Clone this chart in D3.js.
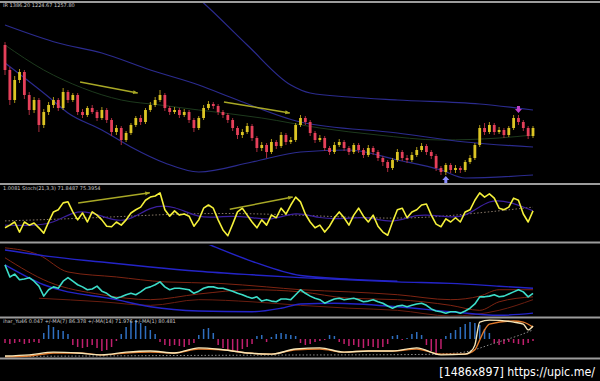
<!DOCTYPE html>
<html>
<head>
<meta charset="utf-8">
<script src="https://cdn.jsdelivr.net/npm/d3@7"></script>
<style>
  html, body { margin: 0; padding: 0; background: #000; }
  svg { display: block; }
</style>
</head>
<body>
<div id="chart"></div>
<script>
"use strict";

// ---- price bars (open of a bar = previous close) ----
var firstOpen = 1338;
var closes = [1313,1283,1303,1311,1288,1273,1283,1258,1271,1278,
  1283,1275,1291,1283,1288,1271,1268,1275,1271,1265,
  1273,1263,1251,1255,1243,1250,1258,1265,1261,1273,
  1278,1283,1288,1275,1271,1273,1268,1271,1263,1255,
  1265,1275,1279,1277,1271,1268,1263,1255,1248,1251,
  1257,1245,1235,1238,1231,1241,1237,1248,1241,1243,
  1258,1265,1261,1250,1243,1245,1235,1231,1238,1241,
  1235,1231,1238,1233,1228,1235,1231,1225,1221,1215,
  1223,1231,1225,1223,1228,1233,1237,1231,1227,1215,
  1211,1218,1213,1215,1213,1221,1225,1238,1255,1251,
  1258,1251,1253,1248,1255,1265,1261,1255,1247,1255];
var highs = [1341,1316,1307,1314,1313,1291,1286,1285,1274,1281,
  1286,1285,1295,1293,1290,1290,1274,1277,1278,1273,
  1276,1275,1265,1258,1257,1252,1260,1267,1268,1275,
  1281,1286,1293,1290,1277,1276,1275,1274,1273,1265,
  1267,1278,1282,1281,1279,1273,1270,1265,1257,1254,
  1260,1259,1247,1241,1240,1244,1243,1251,1250,1246,
  1260,1268,1267,1263,1252,1248,1247,1237,1241,1244,
  1243,1237,1240,1240,1235,1238,1237,1233,1227,1223,
  1225,1234,1233,1228,1231,1236,1240,1239,1233,1229,
  1217,1220,1220,1218,1217,1223,1228,1240,1258,1260,
  1261,1260,1256,1255,1257,1268,1268,1263,1257,1257];
var lows = [1308,1278,1280,1300,1284,1268,1270,1251,1255,1268,
  1275,1272,1273,1280,1281,1268,1265,1266,1269,1262,
  1263,1260,1247,1248,1238,1241,1248,1256,1258,1259,
  1271,1276,1281,1272,1268,1269,1265,1266,1260,1251,
  1253,1263,1273,1274,1268,1265,1260,1252,1244,1245,
  1249,1242,1231,1232,1225,1229,1234,1235,1238,1239,
  1241,1256,1258,1247,1240,1241,1232,1228,1229,1236,
  1232,1228,1229,1230,1225,1226,1228,1222,1217,1211,
  1213,1221,1222,1220,1221,1226,1231,1228,1224,1212,
  1208,1208,1210,1210,1210,1211,1219,1223,1236,1248,
  1249,1248,1249,1245,1246,1253,1258,1252,1244,1245];

// envelope lines on the price chart, [bar, price]
var bandOuter = [[30,1423],[41,1380],[50,1338],[59,1298],[63,1290],[71,1286],[81,1283],[98,1279],[109,1273]];
var bandUpper = [[0,1358],[11,1340],[20,1330],[30,1313],[40,1298],[48,1283],[61,1261],[81,1250],[95,1241],[109,1236]];
var bandLower = [[0,1320],[9,1286],[13,1270],[20,1253],[26,1236],[33,1220],[40,1211],[51,1221],[61,1231],[71,1233],[81,1223],[90,1213],[95,1205],[109,1208]];
var bandMid = [[0,1338],[8,1313],[16,1295],[24,1283],[32,1278],[40,1273],[53,1265],[65,1255],[77,1248],[90,1243],[102,1245],[109,1248]];

// signal arrows: [bar, price]
var buySignal = [91, 1208];
var sellSignal = [106, 1268];

// stochastic
var stochMain = [23,28,34,15,34,28,32,23,13,34,
  53,57,70,72,53,38,51,34,53,47,
  38,26,25,34,28,38,51,57,62,75,
  81,83,89,57,45,55,47,49,45,26,
  38,60,66,60,38,19,8,30,53,60,
  47,34,23,38,28,47,42,60,49,66,
  81,72,49,34,23,28,15,26,42,53,
  42,28,47,60,45,34,47,26,15,9,
  34,57,60,42,53,57,66,68,47,30,
  25,40,34,42,34,53,57,75,89,81,
  87,79,60,57,62,79,75,49,34,55];
var stochSignal = [[0,28],[5,27],[10,30],[15,60],[20,45],[25,30],[30,65],[35,65],[40,40],[45,45],[50,45],[55,35],[60,55],[65,40],[70,40],[75,45],[80,30],[85,50],[90,45],[95,40],[100,80],[105,70],[109,55]];
var stochSlow = [[0,36],[20,42],[40,52],[60,48],[81,38],[95,48],[109,62]];

// third window oscillator and its bands
var oscMain = [72,55,59,51,52,54,49,42,28,37,
  41,39,49,54,49,44,41,37,38,42,
  35,32,27,25,27,30,32,30,34,39,
  41,44,48,41,37,39,39,38,37,32,
  35,39,41,41,39,39,37,35,32,30,
  27,25,27,21,23,21,20,24,24,23,
  30,37,32,28,25,23,18,21,24,25,
  23,24,25,23,20,21,23,20,18,14,
  11,14,15,13,15,17,18,15,10,7,
  6,4,6,6,4,7,11,17,27,27,
  28,30,27,28,31,34,37,34,27,32];
var oscBlueUpper = [[0,93],[9,84],[20,76],[30,69],[40,63],[51,58],[61,54],[71,51],[81,48],[92,46],[102,42],[109,39]];
var oscBlueSteep = [[38,112],[42,101],[51,77],[61,57],[71,52],[81,49]];
var oscBlueLower = [[0,72],[8,44],[23,23],[30,13],[40,7],[51,6],[57,11],[61,17],[68,18],[81,13],[92,6],[102,1],[109,4]];
var oscBrownA = [[0,96],[7,86],[13,62],[23,55],[33,48],[44,46],[54,41],[61,37],[71,34],[81,30],[92,23],[98,28],[102,37],[109,37]];
var oscBrownB = [[0,82],[9,48],[20,30],[30,23],[40,31],[51,37],[61,34],[71,25],[81,23],[92,15],[98,8],[102,20],[109,27]];
var oscBrownC = [[7,25],[20,20],[30,15],[40,23],[51,20],[61,15],[71,11],[81,8],[92,0],[102,8],[109,23]];

// bottom window: histogram and two fast lines
var histValues = [-4,-5,-4,-3,-5,-4,-3,-4,
  6,14,12,9,8,5,
  -6,-8,-9,-8,-6,-9,-12,-11,-8,
  -2,
  5,12,18,19,16,13,9,5,
  -3,-6,-7,-6,-7,-8,-6,-4,
  4,10,11,6,
  -6,-9,-12,-13,-12,-10,-8,-5,
  3,4,-3,2,
  5,6,5,4,3,
  -4,-6,-5,-3,-2,
  -1,4,3,
  -3,-5,-7,-6,-8,-9,-7,-8,-9,-8,-5,
  3,4,-1,1,
  5,7,4,
  -6,-12,-16,-10,
  3,6,9,12,15,17,16,14,10,6,
  -4,-6,-5,-3,-4,-5,-6,-4,-2];
var fastLine = [[0,5],[5,8],[10,15],[15,13],[20,8],[25,15],[30,18],[35,13],[40,26],[45,21],[50,13],[55,10],[60,23],[65,26],[70,15],[75,18],[80,18],[85,26],[90,8],[95,10],[96,15],[97,33],[98,92],[100,97],[105,92],[107,87],[108,72],[109,82]];
var slowLine = [[0,3],[5,5],[10,13],[15,13],[20,8],[25,13],[30,15],[35,13],[40,23],[45,21],[50,13],[55,10],[60,21],[65,23],[70,15],[75,18],[80,18],[85,23],[90,10],[95,10],[97,21],[98,46],[99,72],[100,87],[105,95],[107,92],[109,79]];
var dottedLine = [[0,4],[30,6],[60,8],[90,8],[96,15],[100,35],[105,52],[109,72]];

// panel headers
var headers = [
  "IR 1386.20 1224.67 1257.80",
  "1.0081  Stoch(21,3,3) 71.8487 75.3954",
  "",
  "ihar_Yu46 0.047  +/-MA(7) 86.378  +/-MA(14) 71.976  +/-MA(1) 80.481"
];

var W = 600, H = 381;
var panels = [
  { top: 3, bottom: 183 },
  { top: 186, bottom: 241 },
  { top: 245, bottom: 316 },
  { top: 319, bottom: 358 }
];

var svg = d3.select("#chart").append("svg")
  .attr("width", W).attr("height", H)
  .style("background", "#000");

var x = d3.scaleLinear().domain([0, closes.length - 1]).range([5, 533]);

var yPrice = d3.scaleLinear().domain([1200, 1380]).range([183, 3]);
var yStoch = d3.scaleLinear().domain([0, 100]).range([240, 187]);
var yOsc = d3.scaleLinear().domain([0, 100]).range([316, 245]);
var yHist = d3.scaleLinear().domain([-20, 20]).range([359, 319]);
var yFast = d3.scaleLinear().domain([0, 100]).range([358, 319]);

// clip each window
var defs = svg.append("defs");
panels.forEach(function(p, i) {
  defs.append("clipPath").attr("id", "clip" + i)
    .append("rect").attr("x", 0).attr("y", p.top).attr("width", W).attr("height", p.bottom - p.top);
});

function pairLine(g, data, y, color, width, curve, dash) {
  var line = d3.line()
    .x(function(d) { return x(d[0]); })
    .y(function(d) { return y(d[1]); })
    .curve(curve || d3.curveMonotoneX);
  var p = g.append("path").datum(data)
    .attr("d", line)
    .attr("fill", "none")
    .attr("stroke", color)
    .attr("stroke-width", width);
  if(dash) { p.attr("stroke-dasharray", dash); }
  return p;
}

function seriesLine(g, data, y, color, width) {
  var line = d3.line()
    .x(function(d, i) { return x(i); })
    .y(function(d) { return y(d); });
  return g.append("path").datum(data)
    .attr("d", line)
    .attr("fill", "none")
    .attr("stroke", color)
    .attr("stroke-width", width)
    .attr("stroke-linejoin", "round");
}

function arrowLine(g, from, to, y, color) {
  var x1 = x(from[0]), y1 = y(from[1]), x2 = x(to[0]), y2 = y(to[1]);
  var a = Math.atan2(y2 - y1, x2 - x1);
  g.append("line").attr("x1", x1).attr("y1", y1).attr("x2", x2).attr("y2", y2)
    .attr("stroke", color).attr("stroke-width", 1.5);
  var s = 5;
  g.append("path")
    .attr("d", "M" + x2 + "," + y2 +
      "L" + (x2 - s * Math.cos(a - 0.4)) + "," + (y2 - s * Math.sin(a - 0.4)) +
      "L" + (x2 - s * Math.cos(a + 0.4)) + "," + (y2 - s * Math.sin(a + 0.4)) + "Z")
    .attr("fill", color);
}

// ---- main window ----
var g0 = svg.append("g").attr("clip-path", "url(#clip0)");

pairLine(g0, bandMid, yPrice, "#1d3a1d", 1);
pairLine(g0, bandOuter, yPrice, "#2b2b8e", 1.2);
pairLine(g0, bandUpper, yPrice, "#2b2b8e", 1.2);
pairLine(g0, bandLower, yPrice, "#2b2b8e", 1.2);

var bars = closes.map(function(c, i) {
  return { i: i, o: i === 0 ? firstOpen : closes[i - 1], c: c, h: highs[i], l: lows[i] };
});

var bull = "#dcc524", bear = "#e5405a";
var candle = g0.selectAll(".bar").data(bars).enter().append("g").classed("bar", true);
candle.append("line")
  .attr("x1", function(d) { return x(d.i); })
  .attr("x2", function(d) { return x(d.i); })
  .attr("y1", function(d) { return yPrice(d.h); })
  .attr("y2", function(d) { return yPrice(d.l); })
  .attr("stroke", function(d) { return d.c >= d.o ? "#a89418" : "#a82c3e"; })
  .attr("stroke-width", 1);
candle.append("rect")
  .attr("x", function(d) { return x(d.i) - 1.4; })
  .attr("width", 2.8)
  .attr("y", function(d) { return yPrice(Math.max(d.o, d.c)); })
  .attr("height", function(d) { return Math.max(1, Math.abs(yPrice(d.o) - yPrice(d.c))); })
  .attr("fill", function(d) { return d.c >= d.o ? bull : bear; });

arrowLine(g0, [15.5, 1301], [27.4, 1290], yPrice, "#a8a826");
arrowLine(g0, [45.2, 1281], [58.8, 1270], yPrice, "#a8a826");

// buy / sell arrows
var bx = x(buySignal[0]), by = yPrice(buySignal[1]) + 1;
svg.append("path")
  .attr("d", "M" + bx + "," + by + "l-3.5,4h2v3h3v-3h2z")
  .attr("fill", "#8a8cff");
var sx = x(sellSignal[0]), sy = yPrice(sellSignal[1]) - 2;
svg.append("path")
  .attr("d", "M" + sx + "," + sy + "l-3.5,-4h2v-3h3v3h2z")
  .attr("fill", "#c040c8");

// ---- stochastic window ----
var g1 = svg.append("g").attr("clip-path", "url(#clip1)");
pairLine(g1, stochSlow, yStoch, "#8a7a6a", 1, d3.curveBasis, "1.5,2");
pairLine(g1, stochSignal, yStoch, "#3c20a0", 1.2, d3.curveBasis);
seriesLine(g1, stochMain, yStoch, "#f4f03a", 1.6);
arrowLine(g1, [15.1, 70], [29.9, 89], yStoch, "#a8a826");
arrowLine(g1, [46.4, 58], [59.4, 81], yStoch, "#a8a826");

// ---- third window ----
var g2 = svg.append("g").attr("clip-path", "url(#clip2)");
pairLine(g2, oscBrownA, yOsc, "#7e2412", 1);
pairLine(g2, oscBrownB, yOsc, "#7e2412", 1);
pairLine(g2, oscBrownC, yOsc, "#6a1e10", 1);
pairLine(g2, oscBlueSteep, yOsc, "#2424c8", 1.4);
pairLine(g2, oscBlueUpper, yOsc, "#2424c8", 1.4);
pairLine(g2, oscBlueLower, yOsc, "#2424c8", 1.4);
seriesLine(g2, oscMain, yOsc, "#3cdcc8", 1.6);

// ---- bottom window ----
var g3 = svg.append("g").attr("clip-path", "url(#clip3)");
g3.selectAll(".hist").data(histValues).enter().append("rect").classed("hist", true)
  .attr("x", function(d, i) { return x(i) - 0.75; })
  .attr("width", 1.5)
  .attr("y", function(d) { return d >= 0 ? yHist(d) : yHist(0); })
  .attr("height", function(d) { return Math.abs(yHist(d) - yHist(0)); })
  .attr("fill", function(d) { return d >= 0 ? "#2f6fc0" : "#c0206e"; });
pairLine(g3, dottedLine, yFast, "#8a8a8a", 1, d3.curveBasis, "1.5,2");
pairLine(g3, slowLine, yFast, "#e0782a", 1.4);
pairLine(g3, fastLine, yFast, "#f6e6b8", 1.4);

// ---- separators and headers ----
var seps = [2, 184, 242.5, 317.5, 358.5];
svg.selectAll(".sep").data(seps).enter().append("rect").classed("sep", true)
  .attr("x", 0).attr("width", W)
  .attr("y", function(d) { return d - 1; })
  .attr("height", 2)
  .attr("fill", "#9c9c9c");

svg.selectAll(".hdr").data(headers).enter().append("text").classed("hdr", true)
  .attr("x", 3)
  .attr("y", function(d, i) { return panels[i].top + 4; })
  .attr("font-family", "DejaVu Sans, sans-serif")
  .attr("font-size", 5)
  .attr("fill", "#c8c8c8")
  .text(function(d) { return d; });

// image-host stamp, bottom right
svg.append("text")
  .attr("x", 595).attr("y", 376)
  .attr("text-anchor", "end")
  .attr("font-family", "Liberation Sans Narrow, DejaVu Sans Condensed, sans-serif")
  .attr("font-size", 12.3)
  .attr("fill", "#ffffff")
  .text("[1486x897] https://upic.me/");
</script>
</body>
</html>
